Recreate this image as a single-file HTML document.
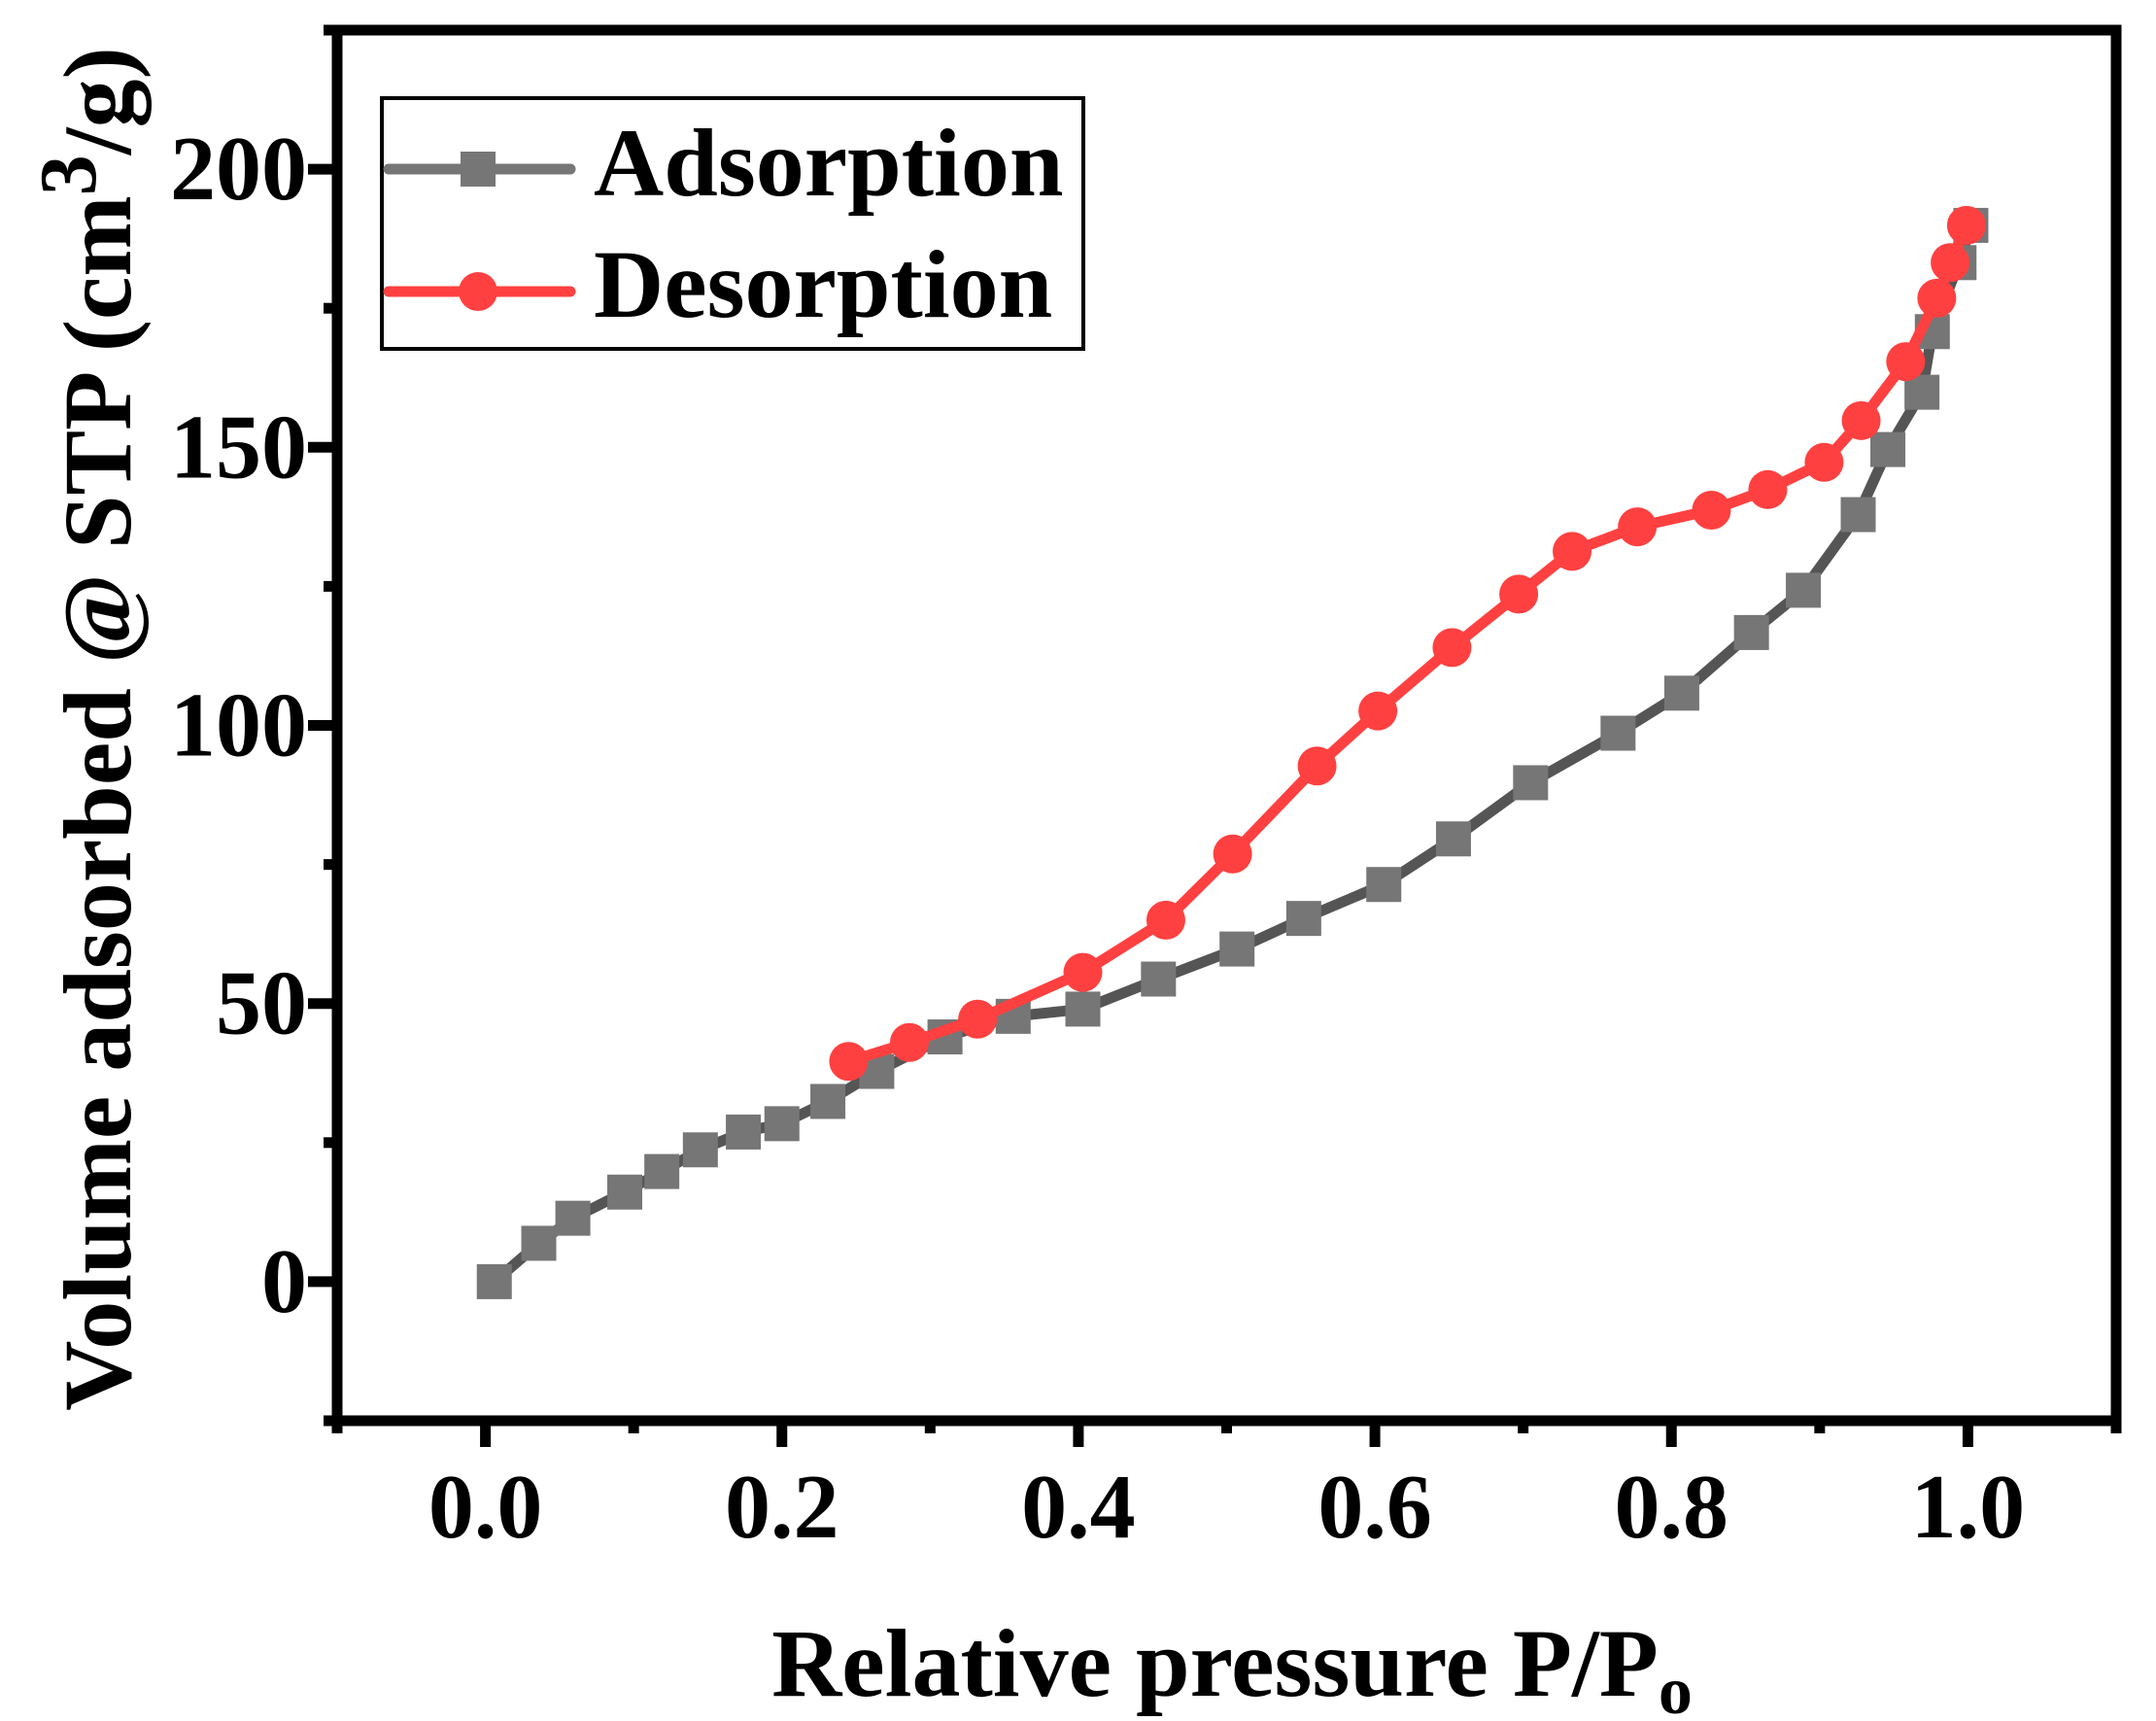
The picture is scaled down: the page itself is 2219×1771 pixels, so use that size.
<!DOCTYPE html>
<html><head><meta charset="utf-8">
<style>
html,body{margin:0;padding:0;background:#fff;}
svg{display:block;font-family:"Liberation Serif",serif;font-weight:bold;}
</style></head>
<body>
<svg id="chart" width="2219" height="1771" viewBox="0 0 2219 1771" xmlns="http://www.w3.org/2000/svg">
<g id="marks"></g>
<g id="axes"></g>
<g>
  <rect x="393" y="101" width="722" height="258" fill="#fff" stroke="#000" stroke-width="4"/>
  <g>
    <line x1="400" y1="174" x2="587" y2="174" stroke="#767676" stroke-width="11" stroke-linecap="round"/>
    <rect x="474" y="156" width="36" height="36" fill="#767676"/>
    <text x="611" y="201" font-size="100" fill="#000">Adsorption</text>
  </g>
  <g>
    <line x1="400" y1="300" x2="587" y2="300" stroke="#ff4040" stroke-width="11" stroke-linecap="round"/>
    <circle cx="492" cy="300" r="20" fill="#ff4040"/>
    <text x="611" y="326" font-size="100" fill="#000">Desorption</text>
  </g>
</g>
<text x="1268" y="1745" font-size="100" text-anchor="middle">Relative pressure P/P<tspan font-size="70" dy="18">o</tspan></text>
<text transform="translate(134,750) rotate(-90)" font-size="100" text-anchor="middle">Volume adsorbed @ STP (cm<tspan font-size="84" dy="-36">3</tspan><tspan dy="36">/g)</tspan></text>
</svg>
<script>
const adsX=[0.006,0.036,0.059,0.094,0.119,0.145,0.174,0.200,0.231,0.264,0.310,0.356,0.403,0.454,0.507,0.552,0.606,0.653,0.705,0.764,0.807,0.854,0.889,0.926,0.946,0.969,0.976,0.994,1.002];
const adsY=[0,6.9,11.4,16.1,19.8,23.7,26.9,28.4,32.4,37.8,44.0,47.7,49.0,54.4,59.8,65.3,71.4,79.6,89.7,98.6,105.8,116.7,124.3,137.9,149.6,159.9,170.8,183.2,189.9];
const desX=[0.245,0.286,0.332,0.403,0.459,0.504,0.561,0.602,0.652,0.697,0.733,0.777,0.827,0.865,0.903,0.928,0.958,0.979,0.988,0.999];
const desY=[39.6,43.0,47.2,55.6,65.0,76.9,92.7,102.6,114.0,123.6,131.3,135.7,138.7,142.4,147.3,154.8,165.4,176.8,183.2,189.9];
const xTickVals=[0.0,0.2,0.4,0.6,0.8,1.0];
const xTickLabels=["0.0","0.2","0.4","0.6","0.8","1.0"];
const yTickVals=[0,50,100,150,200];
const yTickLabels=["0","50","100","150","200"];

const NS="http://www.w3.org/2000/svg";
const L=347,R=2178,T=31,B=1462;
const xMin=-0.1,xMax=1.1,yMin=-25,yMax=225;
function sx(v){return L+(v-xMin)/(xMax-xMin)*(R-L);}
function sy(v){return B-(v-yMin)/(yMax-yMin)*(B-T);}
function mk(tag,attrs,parent){const e=document.createElementNS(NS,tag);for(const k in attrs)e.setAttribute(k,attrs[k]);parent.appendChild(e);return e;}

const marks=document.getElementById('marks');
const axes=document.getElementById('axes');

let p=adsX.map((x,i)=>sx(x)+','+sy(adsY[i])).join(' ');
const l1=mk('polyline',{points:p,fill:'none',stroke:'#555','stroke-width':11,'stroke-linejoin':'round'},marks);


adsX.forEach((x,i)=>{
  const r=mk('rect',{x:sx(x)-18,y:sy(adsY[i])-18,width:36,height:36,fill:'#767676'},marks);
  
  
});
p=desX.map((x,i)=>sx(x)+','+sy(desY[i])).join(' ');
const l2=mk('polyline',{points:p,fill:'none',stroke:'#ff4040','stroke-width':11,'stroke-linejoin':'round'},marks);


desX.forEach((x,i)=>{
  const c=mk('circle',{cx:sx(x),cy:sy(desY[i]),r:20,fill:'#ff4040'},marks);
  
  
});

const fr=mk('rect',{x:L,y:T,width:R-L,height:B-T,fill:'none',stroke:'#000','stroke-width':11},axes);



for(let k=-1;k<=11;k++){
  const v=k/10,x=sx(v);
  const major=(k>=0&&k<=10&&k%2===0);
  const t=mk('line',{x1:x,y1:B,x2:x,y2:B+(major?27:13),stroke:'#000','stroke-width':11},axes);
  
  
}
xTickVals.forEach((v,i)=>{
  const t=mk('text',{x:sx(v),y:1582,'font-size':94,'text-anchor':'middle'},axes);
  t.textContent=xTickLabels[i];
  
  
});
for(let v=-25;v<=225;v+=25){
  const y=sy(v);
  const major=(v>=0&&v<=200&&v%50===0);
  const t=mk('line',{x1:L,y1:y,x2:L-(major?30:14),y2:y,stroke:'#000','stroke-width':11},axes);
  
  
}
yTickVals.forEach((v,i)=>{
  const t=mk('text',{x:316,y:sy(v)+31,'font-size':94,'text-anchor':'end'},axes);
  t.textContent=yTickLabels[i];
  
  
});
</script>
</body></html>
